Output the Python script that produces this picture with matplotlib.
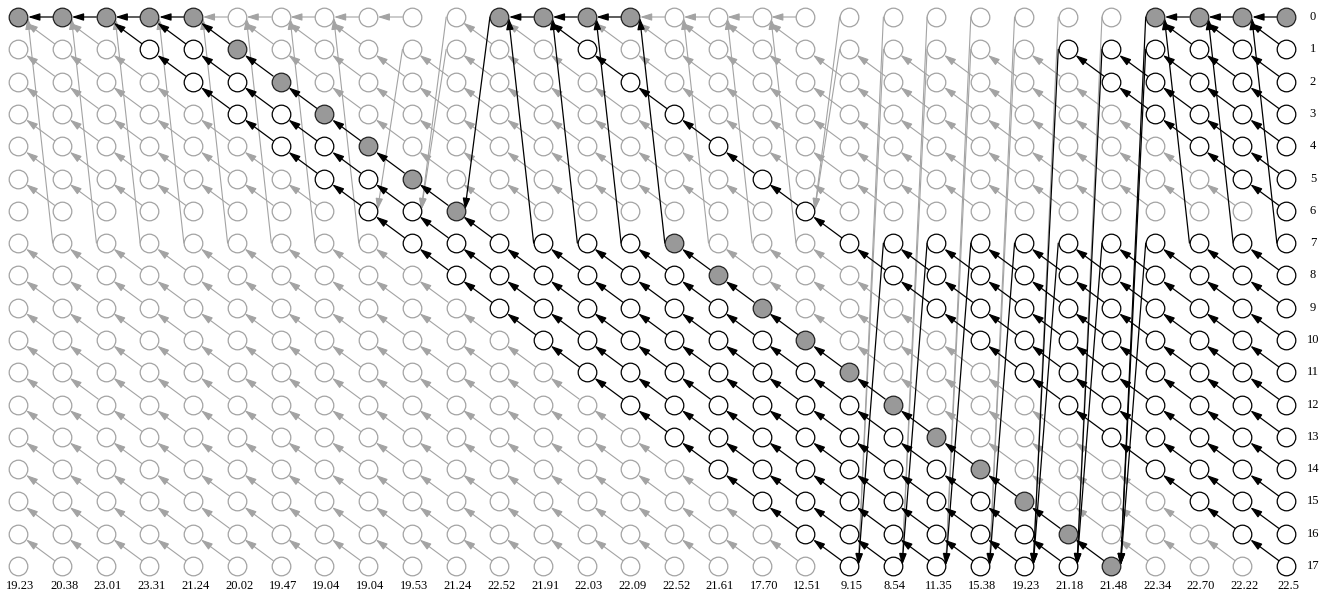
import matplotlib
matplotlib.use("Agg")
import matplotlib.pyplot as plt
from matplotlib.patches import FancyArrowPatch

# observed values under each column
labels = ["19.23", "20.38", "23.01", "23.31", "21.24", "20.02", "19.47", "19.04",
          "19.04", "19.53", "21.24", "22.52", "21.91", "22.03", "22.09", "22.52",
          "21.61", "17.70", "12.51", "9.15", "8.54", "11.35", "15.38", "19.23",
          "21.18", "21.48", "22.34", "22.70", "22.22", "22.5"]
n_states = 18

# back pointers (row in previous column) for the entry states 0, 1 and 7;
# every other state r points to r-1
back_row0 = [None, 0, 0, 0, 0, 0, 0, 0, 0, 0, 6, 6, 0, 0, 0, 0, 0, 0, 0,
             6, 17, 17, 17, 17, 17, 17, 17, 0, 0, 0]
back_row1 = [None, 0, 0, 0, 0, 0, 0, 0, 0, 6, 6, 0, 0, 0, 0, 0, 0, 0, 0,
             6, 17, 17, 17, 17, 17, 17, 17, 0, 0, 0]
back_row7 = [None, 0, 0, 0, 0, 0, 0, 0, 0, 6, 6, 6, 0, 0, 0, 0, 0, 0, 0,
             6, 17, 17, 17, 17, 17, 17, 17, 0, 0, 0]
best_end = 0

n_cols = len(labels)


def back(j, r):
    if r == 0:
        return back_row0[j]
    if r == 1:
        return back_row1[j]
    if r == 7:
        return back_row7[j]
    return r - 1


# nodes reachable by backtracking from the last column
alive = set((n_cols - 1, r) for r in range(n_states))
for j in range(n_cols - 1, 0, -1):
    for r in range(n_states):
        if (j, r) in alive:
            alive.add((j - 1, back(j, r)))

# best path
path = set()
r = best_end
for j in range(n_cols - 1, -1, -1):
    path.add((j, r))
    if j > 0:
        r = back(j, r)

# pixel layout -> data limits
X0, DX, Y0, DY = 18.3, 43.72, 17.0, 32.3
W, H = 1323, 596

fig = plt.figure(figsize=(W / 100, H / 100), dpi=100)
ax = fig.add_axes([0, 0, 1, 1])
ax.set_xlim(-X0 / DX, (W - X0) / DX)
ax.set_ylim((H - Y0) / DY, -Y0 / DY)
ax.axis("off")

GRAY = "#a3a3a3"
R = 6.7            # node radius in points
RX = 9.3 / DX      # node radius in column units
STYLE = "-|>,head_length=0.7,head_width=0.22"

for j in range(1, n_cols):
    for r in range(n_states):
        p = back(j, r)
        on = (j, r) in alive
        col = "black" if on else GRAY
        lw = 0.9 if on else 0.8
        z = 3 if on else 2
        if abs(p - r) > 1:
            # long jumps leave the west side and enter the east side
            arr = FancyArrowPatch((j - RX, r), (j - 1 + RX, p), arrowstyle=STYLE,
                                  color=col, lw=lw, shrinkA=0, shrinkB=0.5,
                                  mutation_scale=10, zorder=z)
            ax.add_patch(arr)
        else:
            ax.annotate("", xy=(j - 1, p), xytext=(j, r),
                        arrowprops=dict(arrowstyle=STYLE, color=col, lw=lw,
                                        shrinkA=R, shrinkB=R + 0.3,
                                        mutation_scale=10),
                        zorder=z)

gx, gy, bx, by, px, py = [], [], [], [], [], []
for j in range(n_cols):
    for r in range(n_states):
        if (j, r) in path:
            px.append(j); py.append(r)
        elif (j, r) in alive:
            bx.append(j); by.append(r)
        else:
            gx.append(j); gy.append(r)

s = (2 * R) ** 2
ax.scatter(gx, gy, s=s, facecolor="white", edgecolor=GRAY, linewidth=0.9, zorder=4)
ax.scatter(bx, by, s=s, facecolor="white", edgecolor="black", linewidth=0.9, zorder=5)
ax.scatter(px, py, s=s, facecolor="#999999", edgecolor="#222222", linewidth=0.9, zorder=5)

font = dict(family="Liberation Serif", fontsize=9)
for j, lab in enumerate(labels):
    ax.text(j + 0.05, (586 - Y0) / DY, lab, ha="center", va="center", **font)
for r in range(n_states):
    ax.text((1313 - X0) / DX, r, str(r), ha="center", va="center", **font)

fig.savefig("out.png", dpi=100)
